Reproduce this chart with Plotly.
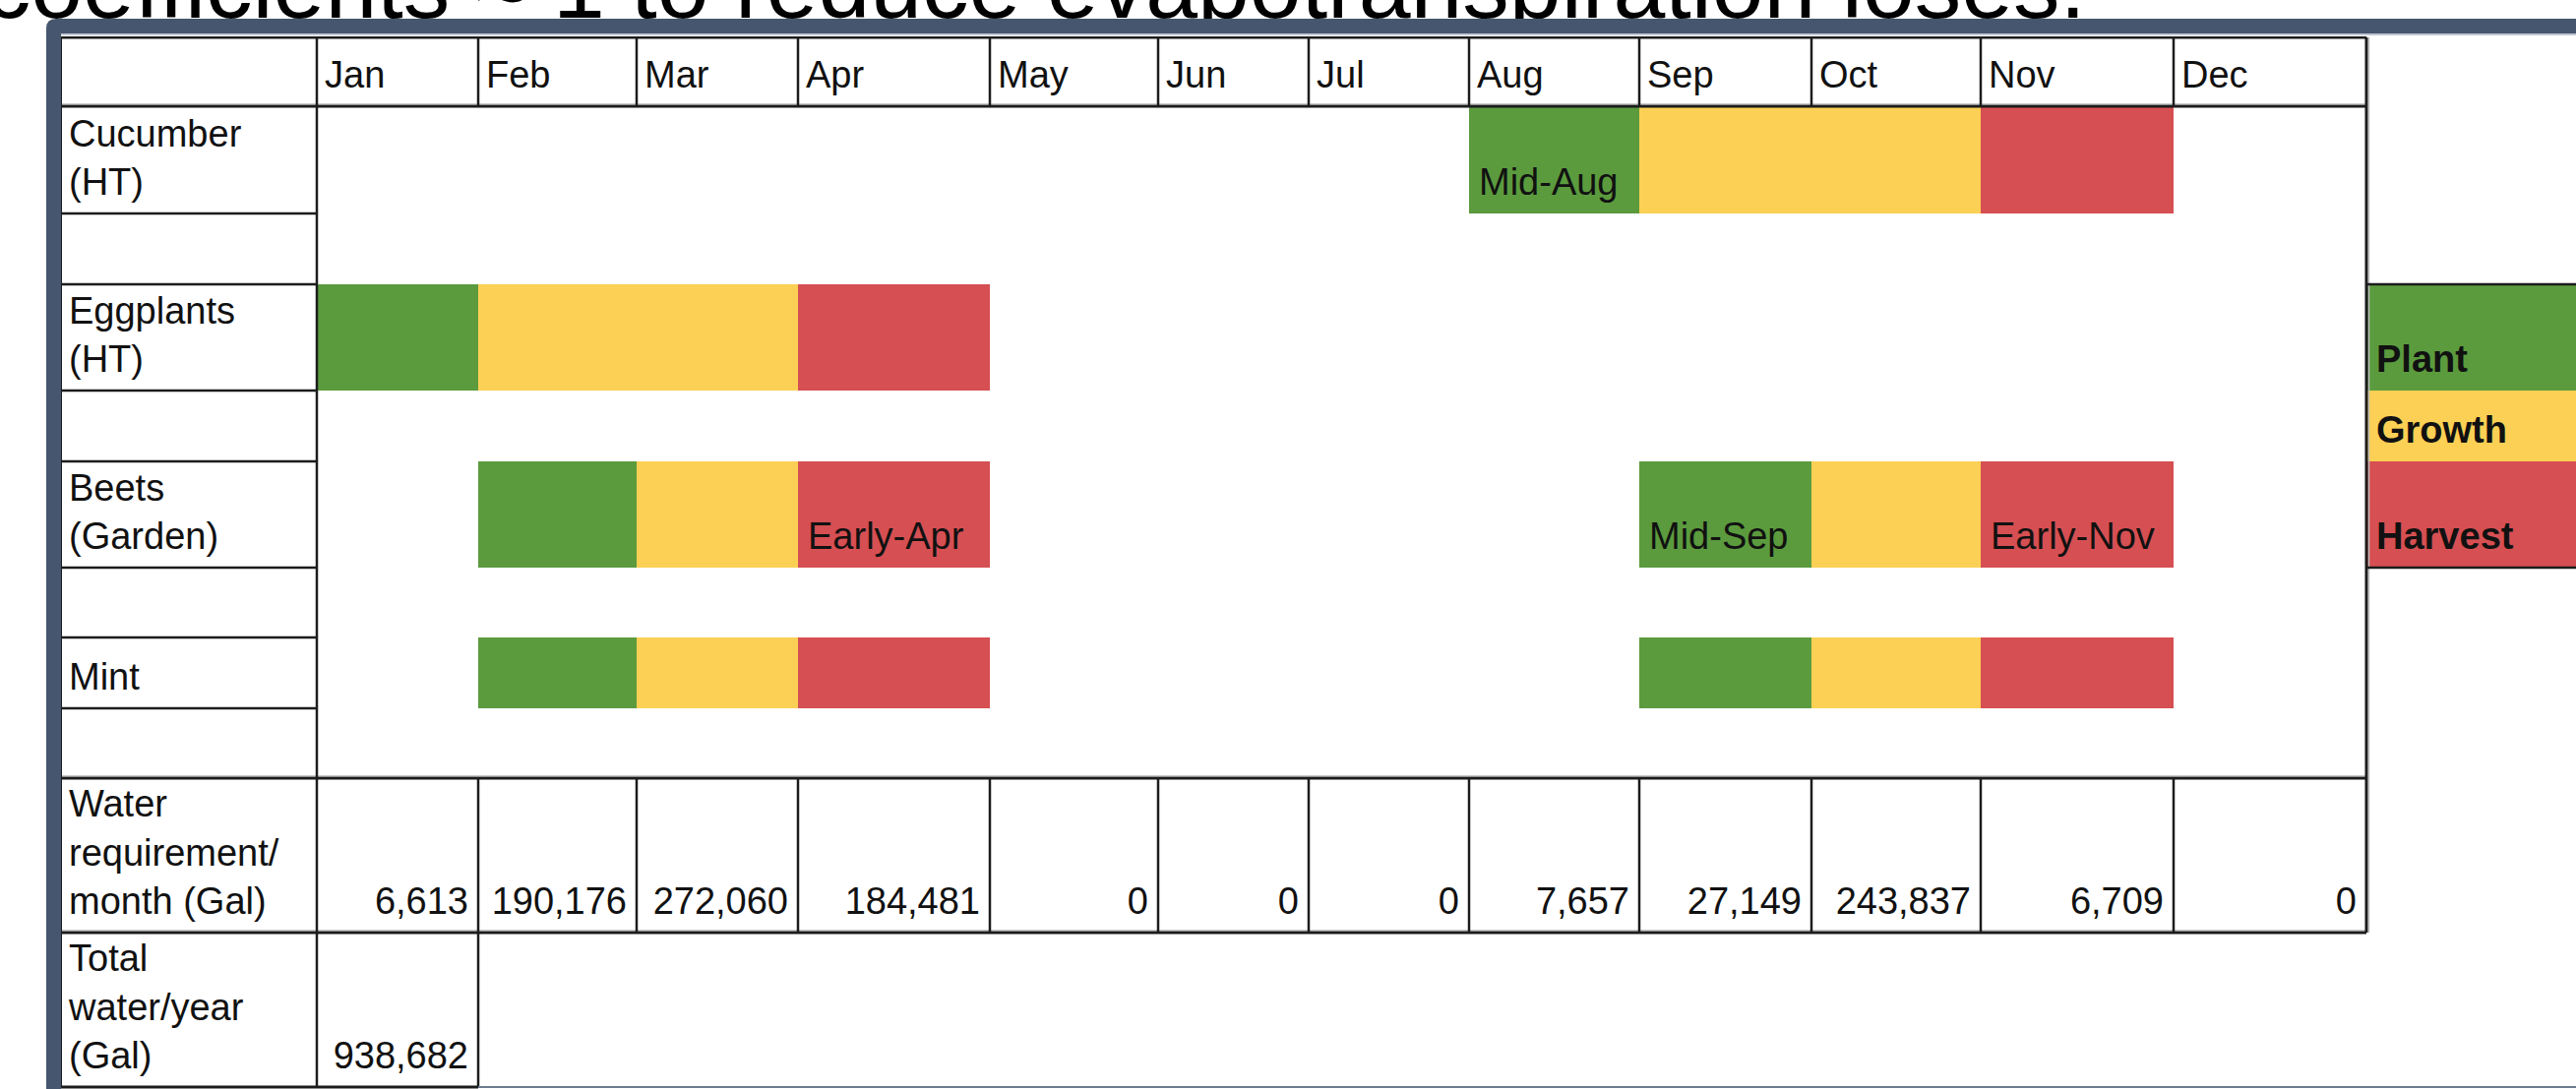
import plotly.graph_objects as go

# ---------------- data ----------------
months = ["Jan", "Feb", "Mar", "Apr", "May", "Jun", "Jul", "Aug", "Sep", "Oct", "Nov", "Dec"]
crops = ["Cucumber<br>(HT)", "Eggplants<br>(HT)", "Beets<br>(Garden)", "Mint"]
stages = ["Plant", "Growth", "Harvest"]

# schedule of each crop: crop index, stage, first month, last month (0-based), note
task_crop = [0, 0, 0, 1, 1, 1, 2, 2, 2, 2, 2, 2, 3, 3, 3, 3, 3, 3]
task_stage = ["Plant", "Growth", "Harvest", "Plant", "Growth", "Harvest",
              "Plant", "Growth", "Harvest", "Plant", "Growth", "Harvest",
              "Plant", "Growth", "Harvest", "Plant", "Growth", "Harvest"]
task_start = [7, 8, 10, 0, 1, 3, 1, 2, 3, 8, 9, 10, 1, 2, 3, 8, 9, 10]
task_end = [7, 9, 10, 0, 2, 3, 1, 2, 3, 8, 9, 10, 1, 2, 3, 8, 9, 10]
task_note = ["Mid-Aug", "", "", "", "", "", "", "", "Early-Apr", "Mid-Sep", "", "Early-Nov",
             "", "", "", "", "", ""]

water_label = "Water<br>requirement/<br>month (Gal)"
water_month = [6613, 190176, 272060, 184481, 0, 0, 0, 7657, 27149, 243837, 6709, 0]
total_label = "Total<br>water/year<br>(Gal)"
water_total = [938682]

title_text = "coefficients \u2248 1 to reduce evapotranspiration loses."

# ---------------- layout geometry & styles ----------------
W, H = 2618, 1107
col_edges = [62, 322, 486, 647, 811, 1006, 1177, 1330, 1493, 1666, 1841, 2013, 2209, 2405]
row_edges = [38, 108, 217, 289, 397, 469, 577, 648, 720, 791, 948, 1105]
crop_rows = [1, 3, 5, 7]
WATER_ROW, TOTAL_ROW = 9, 10
legend_rows = [3, 4, 5]
LEG_RIGHT = W

stage_colors = {"Plant": "#5B9B3E", "Growth": "#FCD054", "Harvest": "#D64F52"}
FRAME = "#46566E"
LINE = "#1c1c1c"
FONT = "Liberation Sans, Arial, sans-serif"
FS = 38
PAD_L, PAD_R, BASE = 8, 10, 19

def text_y(row):
    # baseline a fixed distance above the row's bottom edge ("top" text position)
    return row_edges[row + 1] - BASE + 0.25 * FS

fig = go.Figure()

# ---- gantt bars ----
for st in stages:
    idx = [i for i, s in enumerate(task_stage) if s == st]
    base = [col_edges[task_start[i] + 1] for i in idx]
    length = [col_edges[task_end[i] + 2] - col_edges[task_start[i] + 1] for i in idx]
    rows = [crop_rows[task_crop[i]] for i in idx]
    fig.add_trace(go.Bar(
        orientation="h", base=base, x=length,
        y=[(row_edges[r] + row_edges[r + 1]) / 2 for r in rows],
        width=[row_edges[r + 1] - row_edges[r] for r in rows],
        marker=dict(color=stage_colors[st], line=dict(width=0)),
        hoverinfo="skip", showlegend=False))

# ---- legend blocks ----
for st, r in zip(stages, legend_rows):
    fig.add_trace(go.Bar(
        orientation="h", base=[col_edges[-1]], x=[LEG_RIGHT - col_edges[-1]],
        y=[(row_edges[r] + row_edges[r + 1]) / 2], width=[row_edges[r + 1] - row_edges[r]],
        marker=dict(color=stage_colors[st], line=dict(width=0)),
        hoverinfo="skip", showlegend=False))

def add_text(xs, ys, texts, pos, size=FS, color="#111111"):
    fig.add_trace(go.Scatter(
        x=xs, y=ys, text=texts, mode="text", textposition=pos,
        textfont=dict(family=FONT, size=size, color=color),
        hoverinfo="skip", showlegend=False, cliponaxis=True))

# header months
add_text([col_edges[i + 1] + PAD_L for i in range(12)], [text_y(0)] * 12, months, "top right")
# row labels
add_text([col_edges[0] + PAD_L] * 4, [text_y(r) for r in crop_rows], crops, "top right")
add_text([col_edges[0] + PAD_L] * 2, [text_y(WATER_ROW), text_y(TOTAL_ROW)],
         [water_label, total_label], "top right")
# water values
add_text([col_edges[i + 2] - PAD_R for i in range(12)], [text_y(WATER_ROW)] * 12,
         [f"{v:,}" for v in water_month], "top left")
add_text([col_edges[2] - PAD_R], [text_y(TOTAL_ROW)], [f"{water_total[0]:,}"], "top left")
# notes in bars
note_idx = [i for i, n in enumerate(task_note) if n]
add_text([col_edges[task_start[i] + 1] + PAD_L + 2 for i in note_idx],
         [text_y(crop_rows[task_crop[i]]) for i in note_idx],
         [task_note[i] for i in note_idx], "top right")
# legend labels
add_text([col_edges[-1] + PAD_L + 2] * 3, [text_y(r) for r in legend_rows],
         [f"<b>{s}</b>" for s in stages], "top right")
# title (cut by the frame)
add_text([2120], [18 + 0.25 * 95], [title_text], "top left", size=95, color="#000000")

# ---------------- table lines ----------------
shapes = []
def hline(y, x0, x1, color=LINE, w=2.5):
    shapes.append(dict(type="line", xref="x", yref="y", x0=x0, x1=x1, y0=y, y1=y,
                       line=dict(color=color, width=w), layer="above"))
def vline(x, y0, y1, color=LINE, w=2.5):
    shapes.append(dict(type="line", xref="x", yref="y", x0=x, x1=x, y0=y0, y1=y1,
                       line=dict(color=color, width=w), layer="above"))

L, R = col_edges[0], col_edges[-1]
# light shadow lines
for y in [row_edges[0], row_edges[1], row_edges[WATER_ROW], row_edges[WATER_ROW + 1]]:
    hline(y - 2.5, L, R, color="#c8c8c8", w=1.2)
hline(row_edges[0], L, R, w=3)
hline(row_edges[1], L, R, w=3)
hline(row_edges[WATER_ROW], L, R, w=3)
hline(row_edges[WATER_ROW + 1], L, R, w=3)
hline(row_edges[TOTAL_ROW + 1], L, col_edges[2], w=3)
for r in range(2, WATER_ROW):
    hline(row_edges[r], L, col_edges[1])
vline(L, row_edges[0], row_edges[-1], w=2)
vline(col_edges[1], row_edges[0], row_edges[-1])
vline(R + 2.5, row_edges[0], row_edges[WATER_ROW + 1], color="#c0c0c0", w=1.5)
vline(R, row_edges[0], row_edges[WATER_ROW + 1], w=3)
vline(col_edges[2], row_edges[TOTAL_ROW], row_edges[TOTAL_ROW + 1])
for x in col_edges[2:-1]:
    vline(x, row_edges[0], row_edges[1])
    vline(x, row_edges[WATER_ROW], row_edges[WATER_ROW + 1])
# legend borders
hline(row_edges[legend_rows[0]], R, W, w=2.5)
hline(row_edges[legend_rows[-1] + 1], R, W, w=2.5)

# ---------------- slide frame ----------------
shapes.append(dict(type="rect", xref="x", yref="y", x0=40, x1=W, y0=30, y1=37,
                   fillcolor="white", line=dict(width=0), layer="above"))
shapes.append(dict(type="path", xref="x", yref="y",
                   path=f"M 47,{H} L 47,29 Q 47,19 57,19 L {W},19 L {W},34 L 62,34 L 62,{H} Z",
                   fillcolor=FRAME, line=dict(width=0), layer="above"))
hline(35, 62, W, color="#aab3bf", w=1.5)
hline(H - 2, col_edges[2], W, color="#6d7b8f", w=2)

fig.update_layout(
    width=W, height=H, autosize=False,
    margin=dict(l=0, r=0, t=0, b=0, pad=0),
    paper_bgcolor="white", plot_bgcolor="white",
    barmode="overlay", showlegend=False,
    xaxis=dict(range=[0, W], visible=False, fixedrange=True),
    yaxis=dict(range=[H, 0], visible=False, fixedrange=True),
    shapes=shapes,
)

fig.write_html("out.html")
